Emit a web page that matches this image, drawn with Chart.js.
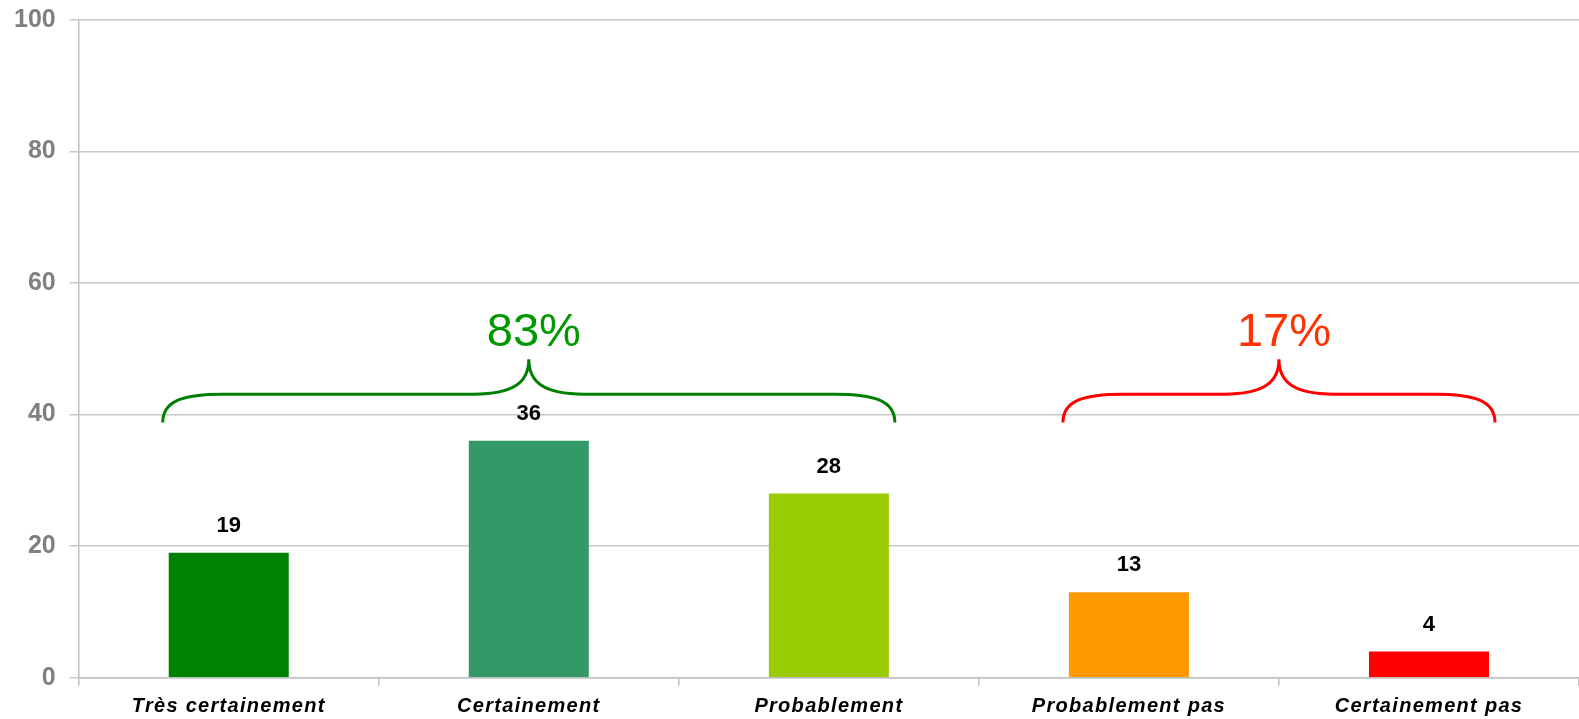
<!DOCTYPE html>
<html>
<head>
<meta charset="utf-8">
<script src="https://cdn.jsdelivr.net/npm/chart.js@4/dist/chart.umd.min.js"></script>
<style>
  html, body { margin: 0; padding: 0; background: #fff; }
  #wrap { width: 1579px; height: 719px; position: relative; }
</style>
</head>
<body>
<div id="wrap"><canvas id="barChart"></canvas></div>
<script>
// chart data
const categories = ['Très certainement', 'Certainement', 'Probablement', 'Probablement pas', 'Certainement pas'];
const values = [19, 36, 28, 13, 4];
const barColors = ['#008000', '#339966', '#99CC00', '#FF9900', '#FF0000'];
const yTicks = [0, 20, 40, 60, 80, 100];

// groups shown with a curly brace above the bars
const groupLabels = ['83%', '17%'];
const groupFirst = [0, 3];
const groupLast = [2, 4];
const braceColors = ['#008000', '#FF0000'];
const groupTextColors = ['#009900', '#FF3300'];

const FONT = '"Liberation Sans", Arial, sans-serif';

// value labels above each bar
const valueLabels = {
  id: 'valueLabels',
  afterDatasetsDraw(chart) {
    const ctx = chart.ctx;
    const meta = chart.getDatasetMeta(0);
    ctx.save();
    ctx.font = 'bold 22px ' + FONT;
    ctx.fillStyle = '#000';
    ctx.textAlign = 'center';
    ctx.textBaseline = 'middle';
    meta.data.forEach((bar, i) => {
      ctx.fillText(values[i], bar.x, bar.y - 27);
    });
    ctx.restore();
  }
};

// category labels drawn by hand (letter spacing like the original)
const xLabels = {
  id: 'xLabels',
  afterDraw(chart) {
    const ctx = chart.ctx;
    const x = chart.scales.x;
    ctx.save();
    ctx.font = 'italic bold 20px ' + FONT;
    ctx.letterSpacing = '1.3px';
    ctx.fillStyle = '#000';
    ctx.textAlign = 'center';
    ctx.textBaseline = 'middle';
    categories.forEach((c, i) => {
      ctx.fillText(c, x.getPixelForValue(i), x.top + 29);
    });
    ctx.restore();
  }
};

// braces + percentages
const braces = {
  id: 'braces',
  afterDatasetsDraw(chart) {
    const ctx = chart.ctx;
    const x = chart.scales.x;
    const y = chart.scales.y;
    const cat = x.getPixelForValue(1) - x.getPixelForValue(0);
    const yEnd = y.getPixelForValue(38.8);
    const yH = y.getPixelForValue(43.1);
    const yPeak = y.getPixelForValue(48.4);
    const yText = y.getPixelForValue(52.4);
    groupLabels.forEach((txt, g) => {
      const x0 = x.getPixelForValue(groupFirst[g]) - 0.22 * cat;
      const x1 = x.getPixelForValue(groupLast[g]) + 0.22 * cat;
      const xp = (x0 + x1) / 2;
      ctx.save();
      ctx.strokeStyle = braceColors[g];
      ctx.lineWidth = 3;
      ctx.beginPath();
      ctx.moveTo(x0, yEnd);
      ctx.bezierCurveTo(x0, yH + 6, x0 + 22, yH, x0 + 60, yH);
      ctx.lineTo(xp - 55, yH);
      ctx.bezierCurveTo(xp - 15, yH, xp, yH - 12, xp, yPeak);
      ctx.bezierCurveTo(xp, yH - 12, xp + 15, yH, xp + 55, yH);
      ctx.lineTo(x1 - 60, yH);
      ctx.bezierCurveTo(x1 - 22, yH, x1, yH + 6, x1, yEnd);
      ctx.stroke();
      ctx.font = '47px ' + FONT;
      ctx.fillStyle = groupTextColors[g];
      ctx.textAlign = 'center';
      ctx.textBaseline = 'middle';
      ctx.fillText(txt, xp + 5, yText);
      ctx.restore();
    });
  }
};

const ctx = document.getElementById('barChart').getContext('2d');
new Chart(ctx, {
  type: 'bar',
  data: {
    labels: categories,
    datasets: [{
      data: values,
      backgroundColor: barColors,
      barPercentage: 0.4,
      categoryPercentage: 1.0
    }]
  },
  options: {
    responsive: true,
    maintainAspectRatio: false,
    animation: false,
    layout: { padding: { top: 0, right: 0, bottom: 0, left: 0 } },
    plugins: {
      legend: { display: false },
      tooltip: { enabled: false }
    },
    scales: {
      x: {
        offset: true,
        grid: {
          offset: true,
          drawOnChartArea: false,
          drawTicks: true,
          tickLength: 8,
          color: '#BFBFBF',
          lineWidth: 1.5
        },
        border: { color: '#BFBFBF', width: 1.5 },
        ticks: {
          color: 'rgba(0,0,0,0)',
          padding: 4.6,
          font: { family: FONT, size: 20, weight: 'bold', style: 'italic' }
        }
      },
      y: {
        min: 0,
        max: 100,
        afterBuildTicks: (axis) => { axis.ticks = yTicks.map(v => ({ value: v })); },
        grid: {
          color: '#C8C8C8',
          lineWidth: 1.5,
          tickLength: 9
        },
        border: { color: '#BFBFBF', width: 1.5 },
        ticks: {
          color: '#808080',
          padding: 14,
          font: { family: FONT, size: 25, weight: 'bold', lineHeight: 0.45 }
        }
      }
    }
  },
  plugins: [valueLabels, braces, xLabels]
});
</script>
</body>
</html>
